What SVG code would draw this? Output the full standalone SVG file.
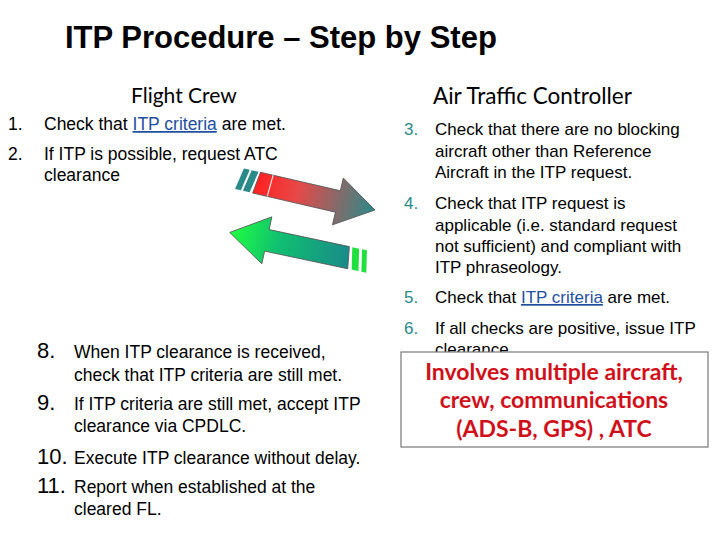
<svg xmlns="http://www.w3.org/2000/svg" width="720" height="540" viewBox="0 0 720 540">
<style>
.t{font-family:"Liberation Sans",Arial,sans-serif;font-size:17.5px;fill:#000}
.rt{font-size:17px}
.n{fill:#2a8a8a}
.h{font-family:Lato,"Open Sans",sans-serif;fill:#000}
.big{font-size:22px}
.u{fill:#1f4fa0;text-decoration:underline}
.r{font-family:Lato,"Open Sans",sans-serif;font-size:23px;font-weight:bold;fill:#d0101a;text-anchor:middle}
</style>
<defs>
<linearGradient id="g1" x1="0" y1="0" x2="1" y2="0"><stop offset="0" stop-color="#ff2020"/><stop offset="0.35" stop-color="#e84848"/><stop offset="1" stop-color="#2a8a8a"/></linearGradient>
<linearGradient id="g2" x1="0" y1="0" x2="1" y2="0"><stop offset="0" stop-color="#1a8a8a"/><stop offset="0.6" stop-color="#10c070"/><stop offset="1" stop-color="#20ff40"/></linearGradient>
</defs>
<rect width="720" height="540" fill="#fff"/>
<text x="65" y="48" font-family="Liberation Sans,Arial,sans-serif" font-size="31" font-weight="bold">ITP Procedure – Step by Step</text>
<g id="headers">
<text class="h" x="131" y="103" font-size="21">Flight Crew</text>
<text class="h" x="433" y="104" font-size="22.5">Air Traffic Controller</text>
</g>
<g id="connectors">
<g transform="translate(258,183) rotate(13)">
<polygon points="-17,-11 -11,-11 -15,11 -21,11" fill="#2a8a8a"/>
<polygon points="-9,-11 -2,-11 -6,11 -13,11" fill="#2a8a8a"/>
<polygon points="0,-11 82,-11 82,-24 120,0 82,24 82,11 -3,11" fill="url(#g1)" stroke="#555" stroke-width="0.8"/>
<line x1="13" y1="-11" x2="12" y2="11" stroke="#fff" stroke-width="1"/>
</g>
<g transform="translate(350,258) rotate(192)">
<polygon points="-4,-11 -11,-11 -7,11 0,11" fill="#20e040"/>
<polygon points="-14,-11 -19,-11 -15,11 -10,11" fill="#20e040"/>
<polygon points="0,-11 85,-11 85,-24 123,0 85,24 85,11 3,11" fill="url(#g2)" stroke="#555" stroke-width="0.8"/>
</g>
</g>
<g id="crew-steps">
<text class="t" x="8" y="130" fill="#333">1.</text><text class="t" x="44" y="130">Check that <tspan class="u">ITP criteria</tspan> are met.</text>
<text class="t" x="8" y="160" fill="#333">2.</text><text class="t" x="44" y="160">If ITP is possible, request ATC</text>
<text class="t" x="44" y="181">clearance</text>
<text class="t big" x="37" y="358">8.</text><text class="t" x="74" y="358">When ITP clearance is received,</text>
<text class="t" x="74" y="381">check that ITP criteria are still met.</text>
<text class="t big" x="37" y="410">9.</text><text class="t" x="74" y="410">If ITP criteria are still met, accept ITP</text>
<text class="t" x="74" y="432">clearance via CPDLC.</text>
<text class="t big" x="37" y="464">10.</text><text class="t" x="74" y="464">Execute ITP clearance without delay.</text>
<text class="t big" x="37" y="493">11.</text><text class="t" x="74" y="493">Report when established at the</text>
<text class="t" x="74" y="515">cleared FL.</text>
</g>
<g id="atc-steps">
<text class="t rt n" x="404" y="135">3.</text><text class="t rt" x="435" y="135">Check that there are no blocking</text>
<text class="t rt" x="435" y="157">aircraft other than Reference</text>
<text class="t rt" x="435" y="178">Aircraft in the ITP request.</text>
<text class="t rt n" x="404" y="209">4.</text><text class="t rt" x="435" y="209">Check that ITP request is</text>
<text class="t rt" x="435" y="231">applicable (i.e. standard request</text>
<text class="t rt" x="435" y="252">not sufficient) and compliant with</text>
<text class="t rt" x="435" y="273">ITP phraseology.</text>
<text class="t rt n" x="404" y="303">5.</text><text class="t rt" x="435" y="303">Check that <tspan class="u">ITP criteria</tspan> are met.</text>
<text class="t rt n" x="404" y="334">6.</text><text class="t rt" x="435" y="334">If all checks are positive, issue ITP</text>
<text class="t rt" x="435" y="355">clearance.</text>
</g>
<g id="note">
<rect x="401" y="352" width="307" height="95" fill="#fff" stroke="#777" stroke-width="1.2"/>
<text class="r" x="554" y="380">Involves multiple aircraft,</text>
<text class="r" x="554" y="408">crew, communications</text>
<text class="r" x="554" y="437">(ADS-B, GPS) , ATC</text>
</g>
</svg>
